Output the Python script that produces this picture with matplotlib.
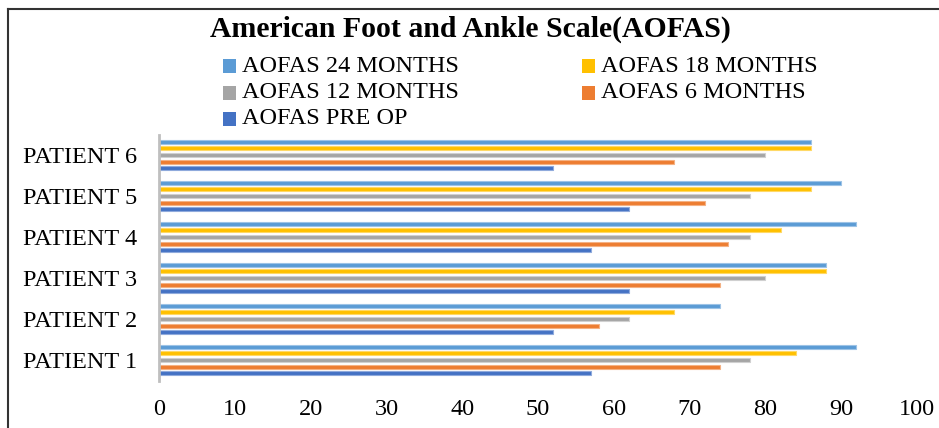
import matplotlib
matplotlib.use("Agg")
import matplotlib.pyplot as plt
from matplotlib.patches import Rectangle
from matplotlib.lines import Line2D
import numpy as np

patients = ["PATIENT 1", "PATIENT 2", "PATIENT 3", "PATIENT 4", "PATIENT 5", "PATIENT 6"]

aofas_pre_op = [57, 52, 62, 57, 62, 52]
aofas_6_months = [74, 58, 74, 75, 72, 68]
aofas_12_months = [78, 62, 80, 78, 78, 80]
aofas_18_months = [84, 68, 88, 82, 86, 86]
aofas_24_months = [92, 74, 88, 92, 90, 86]

series_names = ["AOFAS PRE OP", "AOFAS 6 MONTHS", "AOFAS 12 MONTHS",
                "AOFAS 18 MONTHS", "AOFAS 24 MONTHS"]
series_values = [aofas_pre_op, aofas_6_months, aofas_12_months,
                 aofas_18_months, aofas_24_months]
series_colors = ["#4472C4", "#ED7D31", "#A5A5A5", "#FFC000", "#5B9BD5"]
edge_colors = ["#8FAADC", "#F4B183", "#D0D0D0", "#FFD966", "#9DC3E6"]

x_ticks = [0, 10, 20, 30, 40, 50, 60, 70, 80, 90, 100]

plt.rcParams["font.family"] = ["Liberation Serif", "DejaVu Serif"]

fig = plt.figure(figsize=(9.39, 4.28), dpi=100)
W, H = 939, 428

ax = fig.add_axes([159 / W, 1 - 380.5 / H, (917 - 159) / W, (380.5 - 134.5) / H])

y = np.arange(len(patients))
slot = 0.16
bar_h = 0.10
for i, (vals, col, ec) in enumerate(zip(series_values, series_colors, edge_colors)):
    off = (i - 2) * slot
    ax.barh(y + off, vals, height=bar_h, color=col, edgecolor=ec, linewidth=0.8, zorder=2)

ax.set_xlim(0, 100)
ax.set_ylim(-0.5, 5.5)
ax.set_xticks(x_ticks)
ax.set_xticklabels([str(t) for t in x_ticks])
ax.set_yticks(y)
ax.set_yticklabels(patients)
ax.tick_params(axis="both", length=0, labelsize=17.5, colors="#000000")
ax.tick_params(axis="x", pad=13)
ax.tick_params(axis="y", pad=16)
for s in ["top", "right", "bottom"]:
    ax.spines[s].set_visible(False)
ax.spines["left"].set_color("#BFBFBF")
ax.spines["left"].set_linewidth(2)

# title
fig.text(470 / W, 1 - 29 / H, "American Foot and Ankle Scale(AOFAS)",
         ha="center", va="center", fontsize=21.4, fontweight="bold")

# legend, two columns laid out by hand
legend_items = [
    ("AOFAS 24 MONTHS", series_colors[4], 223, 66),
    ("AOFAS 18 MONTHS", series_colors[3], 582, 66),
    ("AOFAS 12 MONTHS", series_colors[2], 223, 93),
    ("AOFAS 6 MONTHS", series_colors[1], 582, 93),
    ("AOFAS PRE OP", series_colors[0], 223, 119),
]
for label, col, px, py in legend_items:
    fig.patches.append(Rectangle((px / W, 1 - (py + 6.5) / H), 13 / W, 13 / H,
                                 transform=fig.transFigure, facecolor=col,
                                 edgecolor="none"))
    fig.text((px + 19) / W, 1 - py / H, label, ha="left", va="center", fontsize=17.5)

# outer frame lines (top and left)
fig.add_artist(Line2D([8 / W, 1], [1 - 9 / H, 1 - 9 / H], transform=fig.transFigure,
                      color="#333333", linewidth=1.5))
fig.add_artist(Line2D([8 / W, 8 / W], [0, 1 - 9 / H], transform=fig.transFigure,
                      color="#333333", linewidth=1.5))

fig.savefig("out.png", dpi=100, facecolor="white")
